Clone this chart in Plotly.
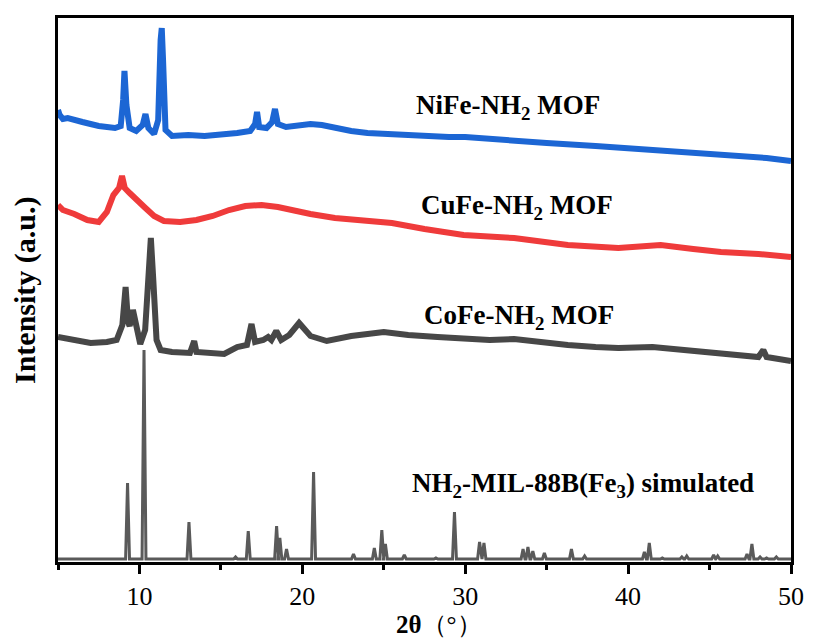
import plotly.graph_objects as go

# ---------------- data (intensity in arbitrary units, stacked offsets) -------------
nife_x = [5.0, 5.1, 5.3, 5.6, 6.5, 7.5, 8.5, 8.85, 9.0, 9.08, 9.2, 9.4, 9.8, 10.2, 10.37, 10.55,
          10.9, 11.15, 11.3, 11.37, 11.45, 11.6, 12.0, 13.0, 14.0, 15.0, 16.0, 16.8, 17.1,
          17.22, 17.35, 17.8, 18.15, 18.32, 18.5, 19.0, 19.8, 20.5, 21.2, 22.0, 23.0, 24.0,
          25.0, 27.0, 29.0, 30.0, 32.0, 35.0, 38.0, 40.0, 42.0, 45.0, 47.0, 48.5, 50.0]
nife_y = [452, 447, 443, 444, 440, 436, 434, 436, 462, 491, 457, 434, 431, 437, 448, 434,
          428, 442, 522, 534, 502, 432, 426, 427, 426, 427, 429, 431, 438,
          450, 435, 434, 440, 453, 438, 435, 436, 438, 437, 434, 431, 429,
          428, 426, 425, 425, 422, 419, 416, 414, 412, 409, 407, 404, 401]

cufe_x = [5.0, 5.3, 6.0, 6.8, 7.5, 8.0, 8.4, 8.75, 8.93, 9.1, 9.4, 9.8, 10.3, 10.9, 11.5,
          12.5, 13.5, 14.5, 15.5, 16.5, 17.5, 18.5, 19.5, 20.5, 22.0, 23.5, 25.5, 27.5,
          29.9, 33.0, 36.3, 39.4, 42.0, 44.0, 45.7, 48.0, 50.0]
cufe_y = [357, 352, 348, 342, 340, 350, 367, 374, 386, 374, 369, 362, 355, 346, 341,
          340, 342, 346, 352, 356, 357, 355, 351, 348, 344, 342, 339, 333,
          327, 324, 317, 314, 317, 313, 310, 308, 305]

cofe_x = [5.0, 6.0, 7.0, 8.0, 8.6, 8.95, 9.15, 9.3, 9.4, 9.6, 9.8, 10.05, 10.35, 10.55,
          10.7, 10.85, 11.05, 11.3, 12.0, 13.1, 13.36, 13.5, 14.5, 15.2, 16.0, 16.6, 16.88,
          17.1, 17.6, 17.9, 18.1, 18.4, 18.7, 19.2, 19.8, 20.5, 21.5, 23.0, 25.0, 26.5,
          28.3, 30.0, 31.5, 33.0, 34.5, 36.3, 38.0, 39.4, 41.5, 43.5, 45.7, 48.0, 48.3,
          48.5, 50.0]
cofe_y = [225, 222, 219, 220, 222, 237, 275, 240, 236, 252, 236, 218, 232, 282,
          324, 282, 222, 212, 210, 209, 221, 210, 208, 208, 215, 217, 238,
          220, 222, 225, 222, 231, 222, 227, 239, 226, 221, 226, 230, 227,
          225, 223, 222, 223, 220, 217, 215, 214, 215, 212, 209, 205, 212,
          205, 201]

sim_base = 3
sim_peak_pos = [9.27, 10.28, 13.04, 15.9, 16.68, 18.42, 18.62, 19.03, 20.69, 23.14, 24.42,
                24.88, 25.1, 26.26, 28.2, 29.34, 30.88, 31.15, 33.55, 33.85, 34.15, 34.86,
                36.52, 37.33, 38.6, 39.9, 41.0, 41.3, 42.1, 43.3, 43.6, 45.25, 45.5, 46.8,
                47.3, 47.6, 48.1, 48.5, 49.1, 49.5]
sim_peak_h = [79, 212, 40, 5, 31, 36, 24, 13, 90, 8, 14,
              32, 18, 7, 4, 50, 20, 19, 13, 15, 11, 9,
              13, 6, 3, 3, 10, 19, 4, 5, 6, 7, 6, 3,
              8, 18, 5, 4, 5, 3]

x_ticks = [10, 20, 30, 40, 50]

labels = ["<b>NiFe-NH<sub>2</sub> MOF</b>", "<b>CuFe-NH<sub>2</sub> MOF</b>",
          "<b>CoFe-NH<sub>2</sub> MOF</b>", "<b>NH<sub>2</sub>-MIL-88B(Fe<sub>3</sub>) simulated</b>"]
label_x = [32.6, 33.2, 33.3, 37.2]
label_y = [455, 355, 245, 77]

# ---------------- build simulated peak trace ----------------
half_w = 0.12
sx, sy = [5.0], [sim_base]
for p, h in zip(sim_peak_pos, sim_peak_h):
    sx += [p - half_w, p, p + half_w]
    sy += [sim_base, h, sim_base]
sx.append(50.0)
sy.append(sim_base)

FONT = "Liberation Serif"
fig = go.Figure()
fig.add_trace(go.Scatter(x=sx, y=sy, mode="lines", line=dict(color="#5a5a5a", width=3)))
fig.add_trace(go.Scatter(x=cofe_x, y=cofe_y, mode="lines", line=dict(color="#474747", width=6)))
fig.add_trace(go.Scatter(x=cufe_x, y=cufe_y, mode="lines", line=dict(color="#ef3b3b", width=6)))
fig.add_trace(go.Scatter(x=nife_x, y=nife_y, mode="lines", line=dict(color="#1c66d4", width=6)))

for t, xx, yy in zip(labels, label_x, label_y):
    fig.add_annotation(x=xx, y=yy, text=t, showarrow=False, xanchor="center", yanchor="middle",
                       font=dict(family=FONT, size=27, color="black"))

fig.add_annotation(xref="paper", yref="paper", x=-0.045, y=0.5, text="<b>Intensity (a.u.)</b>",
                   textangle=-90, showarrow=False, xanchor="center", yanchor="middle",
                   font=dict(family=FONT, size=30, color="black"))
fig.add_annotation(xref="paper", yref="paper", x=0.52, y=-0.114, text="<b>2θ</b>（°）",
                   showarrow=False, xanchor="center", yanchor="middle",
                   font=dict(family=FONT, size=25, color="black"))

fig.update_xaxes(range=[5, 50], tickvals=x_ticks, ticks="outside", ticklen=9, tickwidth=2.5,
                 tickcolor="black", showline=True, linewidth=3, linecolor="black", mirror=True,
                 showgrid=False, zeroline=False,
                 tickfont=dict(family=FONT, size=26, color="black"),
                 minor=dict(dtick=5, tick0=5, ticks="outside", ticklen=5, tickwidth=2.5,
                            tickcolor="black", showgrid=False))
fig.update_yaxes(range=[0, 544], showticklabels=False, ticks="", showline=True, linewidth=3,
                 linecolor="black", mirror=True, showgrid=False, zeroline=False)

fig.update_layout(width=816, height=639, margin=dict(l=58, r=17, t=18, b=77),
                  font=dict(family=FONT),
                  plot_bgcolor="white", paper_bgcolor="white", showlegend=False)

fig.write_html("out.html")
